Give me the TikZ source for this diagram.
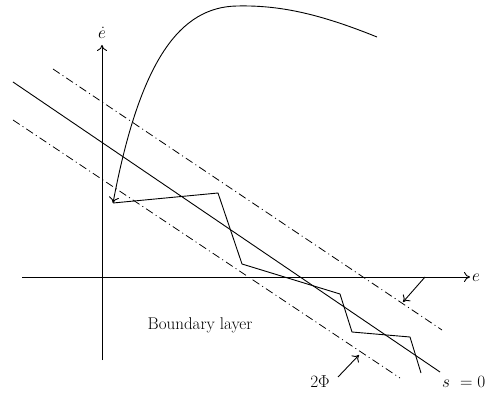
\documentclass[tikz,border=0pt]{standalone}
\usetikzlibrary{arrows.meta}
\begin{document}
\begin{tikzpicture}[x=1pt,y=-1pt,
  ln/.style={line width=0.9pt},
  dd/.style={line width=0.8pt,dash pattern=on 8pt off 3.5pt on 1pt off 3.5pt},
  arr/.style={ln,-{To[length=6pt,width=10pt]}},
  lbl/.style={inner sep=0pt,font=\fontsize{17}{20}\selectfont}]
\useasboundingbox (0,0) rectangle (486,395);
% axes
\coordinate (yb) at (102,360);
\coordinate (yt) at (102,45);
\coordinate (xl) at (22,277);
\coordinate (xr) at (470,277);
\draw[arr] (yb) -- (yt);
\draw[arr] (xl) -- (xr);
\node[lbl,anchor=west] (elab) at (472,278) {$e$};
\node[lbl,anchor=south] (edlab) at (102,39) {$\dot e$};
% switching line and boundary layer
\coordinate (s1) at (13,82);
\coordinate (s2) at (440,372);
\draw[ln] (s1) -- (s2);
\coordinate (u1) at (53,69);
\coordinate (u2) at (442,330);
\draw[dd] (u1) -- (u2);
\coordinate (l1) at (13,120);
\coordinate (l2) at (400,378);
\draw[dd] (l1) -- (l2);
% trajectory
\coordinate (z0) at (113,203);
\coordinate (z1) at (218,193);
\coordinate (z2) at (242,264);
\coordinate (z3) at (340,294);
\coordinate (z4) at (352,332);
\coordinate (z5) at (410,337);
\coordinate (z6) at (421,373);
\coordinate (c0) at (377,37);
\coordinate (cp) at (237,6);
\draw[arr] (c0) .. controls (320,14) and (280,5) .. (cp)
  .. controls (180,7) and (140,60) .. (z0);
\draw[ln] (z0) -- (z1) -- (z2) -- (z3) -- (z4) -- (z5) -- (z6);
% labels
\node[lbl] (bl) at (200,325) {Boundary layer};
\node[lbl] (phi) at (320,382) {$2\Phi$};
\coordinate (pa) at (338,377);
\coordinate (pb) at (359,355);
\draw[arr] (pa) -- (pb);
\coordinate (qa) at (425,277);
\coordinate (qb) at (403,302);
\draw[arr] (qa) -- (qb);
\node[lbl,anchor=west] (s0) at (442,382) {$s\ =0$};
\end{tikzpicture}
\end{document}
